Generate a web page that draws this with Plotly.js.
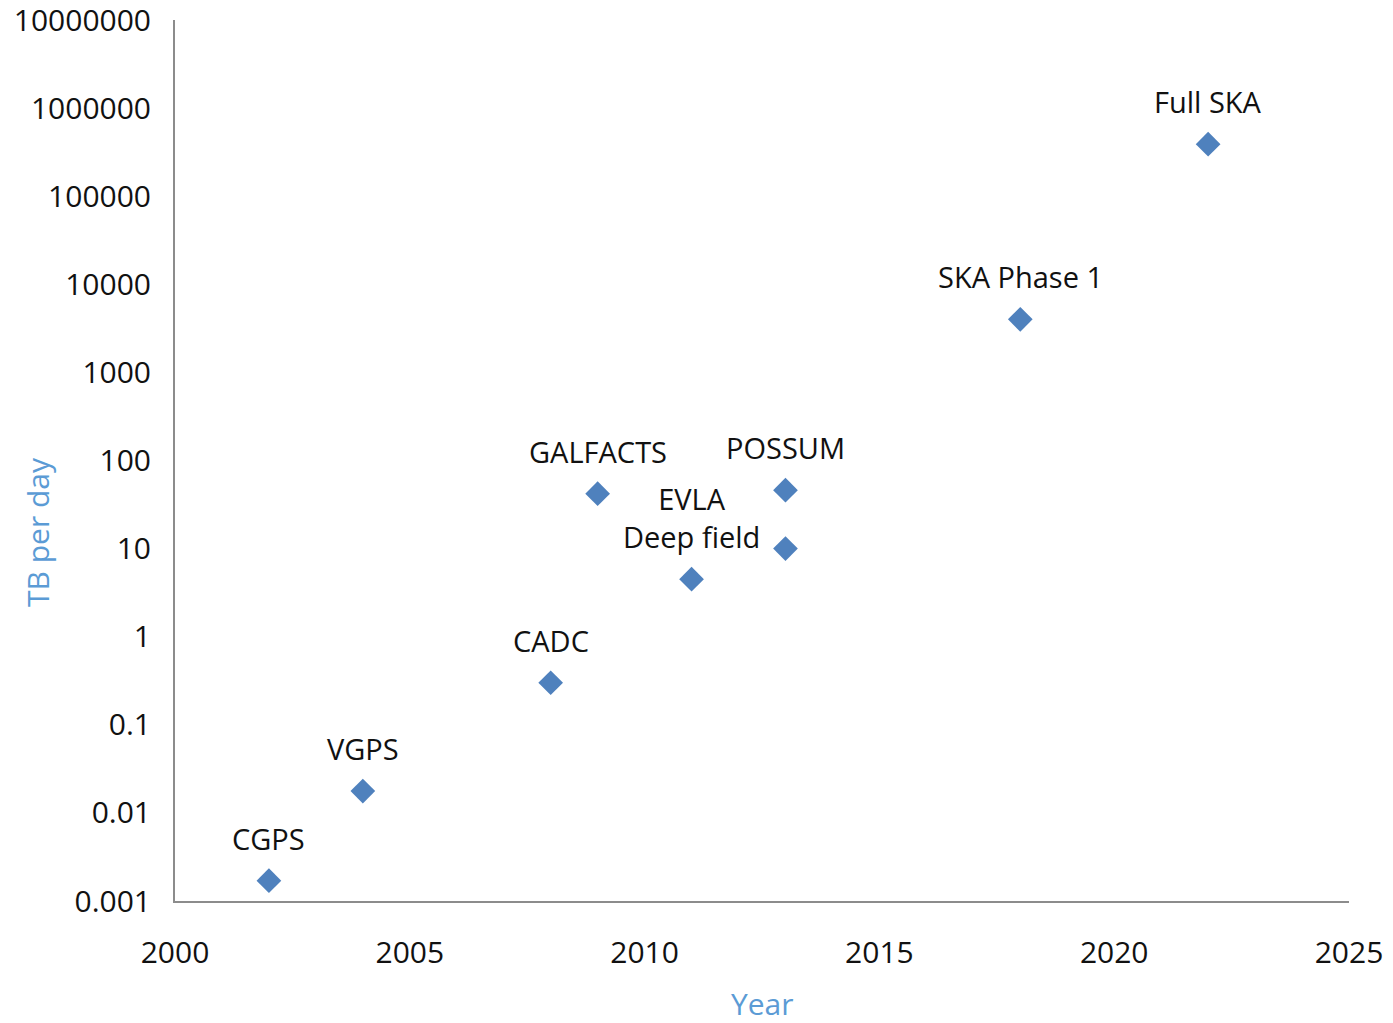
<!DOCTYPE html>
<html>
<head>
<meta charset="utf-8">
<script src="https://cdn.plot.ly/plotly-3.0.1.min.js"></script>
<style>html,body{margin:0;padding:0;background:#fff;}#chart{width:1393px;height:1023px;}</style>
</head>
<body>
<div id="chart"></div>
<script>
// Data
const years = [2002, 2004, 2008, 2009, 2011, 2013, 2013, 2018, 2022];
const tbPerDay = [0.0017, 0.0177, 0.3, 42, 4.5, 46, 10, 4000, 390000];
const pointLabels = ["CGPS", "VGPS", "CADC", "GALFACTS", "EVLA<br>Deep field", "POSSUM", "", "SKA Phase 1", "Full SKA"];

const yTickVals = [0.001, 0.01, 0.1, 1, 10, 100, 1000, 10000, 100000, 1000000, 10000000];
const yTickText = ["0.001", "0.01", "0.1", "1", "10", "100", "1000", "10000", "100000", "1000000", "10000000"];
const xTickVals = [2000, 2005, 2010, 2015, 2020, 2025];
const xTitle = "Year";
const yTitle = "TB per day";

const FONT = "'Open Sans', 'DejaVu Sans', sans-serif";
const PLOT_L = 175, PLOT_R = 1349, PLOT_T = 20, PLOT_B = 901;

const trace = {
  x: years,
  y: tbPerDay,
  type: "scatter",
  mode: "markers",
  marker: {symbol: "diamond", size: 19, color: "#4f81bd"},
  hoverinfo: "x+y",
  showlegend: false
};

const annotations = [];
for (let i = 0; i < years.length; i++) {
  if (!pointLabels[i]) continue;
  annotations.push({
    x: years[i], y: Math.log10(tbPerDay[i]), xref: "x", yref: "y",
    text: pointLabels[i], showarrow: false,
    xanchor: "center", yanchor: "bottom", yshift: 21,
    font: {family: FONT, size: 29, color: "#111"}
  });
}
annotations.push({
  x: (37 - PLOT_L) / (PLOT_R - PLOT_L), y: (PLOT_B - 532) / (PLOT_B - PLOT_T),
  xref: "x domain", yref: "y domain", xanchor: "center", yanchor: "middle",
  text: yTitle, textangle: -90, showarrow: false,
  font: {family: FONT, size: 30, color: "#5b9bd5"}
});
annotations.push({
  x: 0.5, y: -(1003 - PLOT_B) / (PLOT_B - PLOT_T), xref: "x domain", yref: "y domain",
  xanchor: "center", yanchor: "middle", text: xTitle, showarrow: false,
  font: {family: FONT, size: 30, color: "#5b9bd5"}
});

const layout = {
  width: 1393, height: 1023,
  margin: {l: PLOT_L, r: 1393 - PLOT_R, t: PLOT_T, b: 1023 - PLOT_B},
  paper_bgcolor: "#fff", plot_bgcolor: "#fff",
  font: {family: FONT, size: 30, color: "#111"},
  xaxis: {
    range: [2000, 2025], tickvals: xTickVals, ticktext: xTickVals.map(String),
    showgrid: false, zeroline: false, showline: true, linecolor: "#8c8c8c", linewidth: 2,
    ticks: "", ticklabelstandoff: 24, ticklabeloverflow: "allow",
    tickfont: {family: FONT, size: 30, color: "#111"}
  },
  yaxis: {
    type: "log", range: [-3, 7], tickvals: yTickVals, ticktext: yTickText,
    showgrid: false, zeroline: false, showline: true, linecolor: "#8c8c8c", linewidth: 2,
    ticks: "", ticklabelstandoff: 16, ticklabeloverflow: "allow",
    tickfont: {family: FONT, size: 30, color: "#111"}
  },
  annotations: annotations
};

Plotly.newPlot("chart", [trace], layout, {displayModeBar: false, staticPlot: true});
</script>
</body>
</html>
